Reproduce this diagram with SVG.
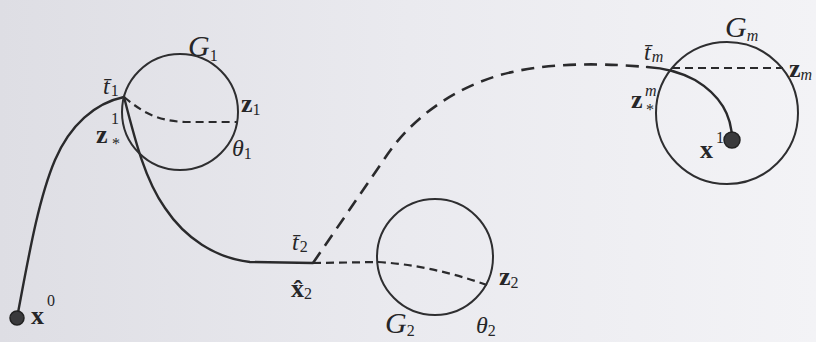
<svg xmlns="http://www.w3.org/2000/svg" width="816" height="342" viewBox="0 0 816 342">
<defs>
<linearGradient id="bg" x1="0" y1="0" x2="1" y2="0">
<stop offset="0" stop-color="#dedee4"/>
<stop offset="0.5" stop-color="#eaeaef"/>
<stop offset="1" stop-color="#f3f3f6"/>
</linearGradient>
<style>
.c{fill:none;stroke:#2e2e30;stroke-width:2}
.s{fill:none;stroke:#2a2a2c;stroke-width:2.4;stroke-linecap:round}
.dl{fill:none;stroke:#2a2a2c;stroke-width:2.6;stroke-dasharray:13 8}
.ds{fill:none;stroke:#2a2a2c;stroke-width:2.2;stroke-dasharray:8 5}
.dot{fill:#3a3a3c;stroke:#222;stroke-width:1.5}
text{font-family:"Liberation Serif","DejaVu Serif",serif;fill:#262628}
.it{font-style:italic;font-size:30px}
.b{font-weight:bold;font-size:26px}
.sub{font-size:16px;font-style:normal;font-weight:normal}
.subi{font-size:16px;font-style:italic;font-weight:normal}
.t{font-style:italic;font-size:24px}
</style>
</defs>
<rect width="816" height="342" fill="url(#bg)"/>
<g id="connectors">
<path class="s" d="M17,318 C28,260 38,200 55,160 C70,125 95,103 124,97"/>
<path class="s" d="M124,97 C135,140 145,180 165,208 C185,238 215,258 250,262 L313,263"/>
<path class="ds" d="M124,97 C140,110 155,121 185,122 L238,122"/>
<path class="ds" d="M313,263 L378,262 Q430,265 487,285"/>
<path class="dl" d="M313,263 L385,158 C410,120 450,90 500,75 C540,64 590,62 647,67"/>
<path class="s" d="M647,67 C665,68 680,72 695,80 C715,92 732,110 732,140"/>
<path class="ds" d="M672,68 L783,68"/>
</g>
<g id="G1">
<circle class="c" cx="180" cy="112" r="58"/>
<text class="it" x="188" y="56">G<tspan class="sub" dy="5">1</tspan></text>
<text class="t" x="103" y="94">t̄<tspan class="sub" dx="1" dy="2">1</tspan></text>
<text class="b" x="241" y="112">z<tspan class="sub" dy="3">1</tspan></text>
<text class="t" x="232" y="156">θ<tspan class="sub" dy="3">1</tspan></text>
<text class="b" x="96" y="143">z</text>
<text class="sub" x="111" y="124">1</text>
<text class="sub" x="112" y="149">*</text>
</g>
<g id="x0">
<circle class="dot" cx="17" cy="318" r="7"/>
<text class="b" x="31" y="324">x</text>
<text class="sub" x="47" y="306">0</text>
</g>
<g id="G2">
<circle class="c" cx="435" cy="257" r="58"/>
<text class="t" x="292" y="250">t̄<tspan class="sub" dx="1" dy="2">2</tspan></text>
<text class="b" x="291" y="297">x̂<tspan class="sub" dy="2">2</tspan></text>
<text class="b" x="499" y="285">z<tspan class="sub" dy="3">2</tspan></text>
<text class="it" x="385" y="333">G<tspan class="sub" dy="3">2</tspan></text>
<text class="t" x="476" y="333">θ<tspan class="sub" dy="3">2</tspan></text>
</g>
<g id="Gm">
<circle class="c" cx="727" cy="113" r="71"/>
<text class="it" x="725" y="37">G<tspan class="subi" dy="4">m</tspan></text>
<text class="t" x="644" y="60">t̄<tspan class="subi" dx="1" dy="2">m</tspan></text>
<text class="b" x="789" y="77">z<tspan class="subi" dy="3">m</tspan></text>
<text class="b" x="631" y="108">z</text>
<text class="subi" x="645" y="96">m</text>
<text class="sub" x="646" y="115">*</text>
</g>
<g id="x1">
<circle class="dot" cx="732" cy="140" r="8"/>
<text class="b" x="700" y="158">x</text>
<text class="sub" x="716" y="143">1</text>
</g>
</svg>
